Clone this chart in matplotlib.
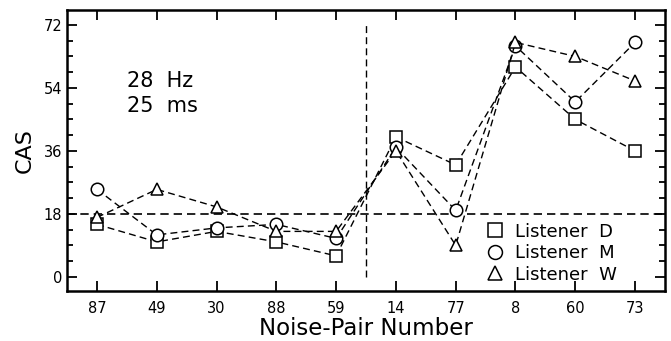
import matplotlib
matplotlib.use('Agg')
import matplotlib.pyplot as plt
from matplotlib.lines import Line2D
from matplotlib.ticker import MultipleLocator

# noise pairs in plotted order
pairs = ['87', '49', '30', '88', '59', '14', '77', '8', '60', '73']
listener_d = [15, 10, 13, 10, 6, 40, 32, 60, 45, 36]
listener_m = [25, 12, 14, 15, 11, 37, 19, 66, 50, 67]
listener_w = [17, 25, 20, 13, 13, 36, 9, 67, 63, 56]
criterion = 18
split_at = 4.5

yticks = [0, 18, 36, 54, 72]

fig = plt.figure(figsize=(6.71, 3.41), dpi=100)
ax = fig.add_axes([0.100, 0.147, 0.891, 0.824])

x = list(range(len(pairs)))
series = [(listener_d, 's', 'Listener  D'),
          (listener_m, 'o', 'Listener  M'),
          (listener_w, '^', 'Listener  W')]

handles = []
for vals, mk, lab in series:
    ax.plot(x, vals, color='black', linestyle=(0, (5, 3)), linewidth=1.0,
            marker=mk, markersize=9, markerfacecolor='white',
            markeredgecolor='black', markeredgewidth=1.1, zorder=3)
    handles.append(Line2D([], [], linestyle='none', marker=mk, markersize=10,
                          markerfacecolor='white', markeredgecolor='black',
                          markeredgewidth=1.1, label=lab))

ax.axhline(criterion, color='black', linestyle=(0, (5, 3)), linewidth=1.2, zorder=2)
ax.plot([split_at, split_at], [0, 72], color='black', linestyle=(0, (5, 3)),
        linewidth=1.0, zorder=2)

ax.set_xlim(-0.5, 9.5)
ax.set_ylim(-4, 76.3)
ax.set_xticks(x)
ax.set_xticklabels(pairs)
ax.set_yticks(yticks)
ax.yaxis.set_minor_locator(MultipleLocator(4.5))
ax.tick_params(which='both', direction='in', top=True, right=True,
               labelsize=10.5, width=1.3)
ax.tick_params(which='major', length=7)
ax.tick_params(which='minor', length=4)
ax.tick_params(axis='x', pad=7)
for sp in ax.spines.values():
    sp.set_linewidth(1.8)

ax.set_xlabel('Noise-Pair Number', fontsize=16.5, labelpad=1)
ax.set_ylabel('CAS', fontsize=16, labelpad=6)

ax.text(0.5, 58.8, '28  Hz\n25  ms', fontsize=15, va='top', ha='left',
        linespacing=1.3)

leg = ax.legend(handles=handles, loc='upper left', frameon=False,
                fontsize=13, handlelength=0.8, handletextpad=0.75,
                labelspacing=0.2, borderpad=0, borderaxespad=0,
                bbox_to_anchor=(0.703, 0.243))

fig.savefig('out.png', dpi=100)
